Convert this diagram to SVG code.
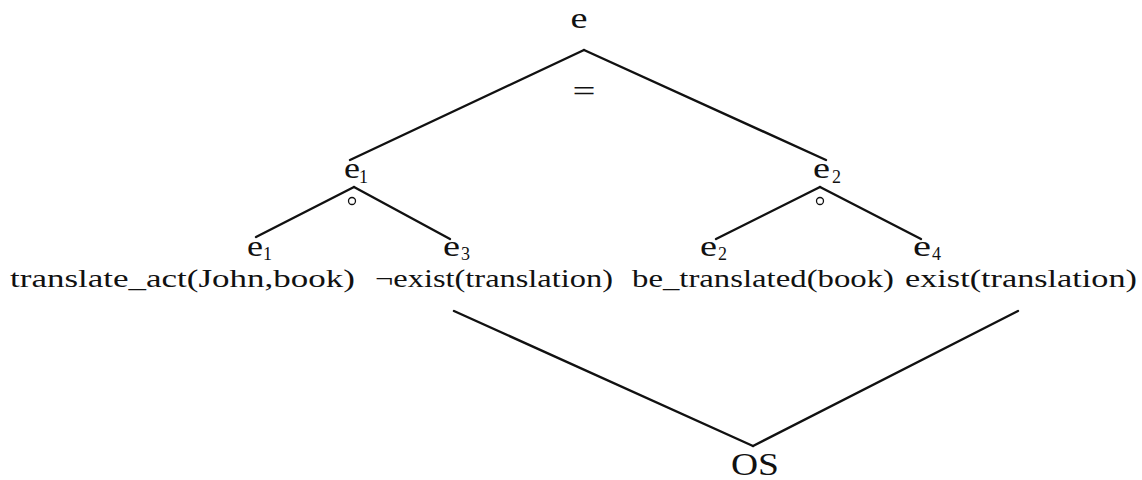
<svg xmlns="http://www.w3.org/2000/svg" width="1142" height="480" viewBox="0 0 1142 480">
<style>
text{font-family:"Liberation Serif","Times New Roman",Times,serif;fill:#111}
.ev{font-size:30px}
.sub{font-size:18px}
.lab{font-size:26px}
.os{font-size:31px}
.eq{font-size:30px}
line{stroke:#111;stroke-width:2.4;stroke-linecap:round}
.op{fill:none;stroke:#111;stroke-width:1.3}
</style>
<rect width="1142" height="480" fill="#fff"/>
<g id="connectors">
<line x1="584" y1="50" x2="350" y2="160"/>
<line x1="584" y1="50" x2="826" y2="160"/>
<line x1="354" y1="187" x2="256" y2="237"/>
<line x1="354" y1="187" x2="450" y2="239"/>
<line x1="820" y1="187" x2="716" y2="239"/>
<line x1="820" y1="187" x2="921" y2="239"/>
<line x1="454" y1="311" x2="753" y2="446"/>
<line x1="1018" y1="311" x2="753" y2="446"/>
</g>
<g id="node-e" font-family="Liberation Serif, serif">
<text class="ev" x="579" y="28" text-anchor="middle" textLength="17" lengthAdjust="spacingAndGlyphs">e</text>
<text class="eq" x="584" y="101" text-anchor="middle" textLength="23" lengthAdjust="spacingAndGlyphs">=</text>
</g>
<g id="node-e1-top" font-family="Liberation Serif, serif">
<text class="ev" x="344" y="178" textLength="16" lengthAdjust="spacingAndGlyphs">e</text>
<text class="sub" x="359" y="183">1</text>
<circle class="op" cx="352" cy="201" r="3.5"/>
</g>
<g id="node-e2-top" font-family="Liberation Serif, serif">
<text class="ev" x="813" y="178" textLength="17" lengthAdjust="spacingAndGlyphs">e</text>
<text class="sub" x="832" y="183">2</text>
<circle class="op" cx="820" cy="201" r="3.5"/>
</g>
<g id="node-e1" font-family="Liberation Serif, serif">
<text class="ev" x="247" y="256" textLength="16" lengthAdjust="spacingAndGlyphs">e</text>
<text class="sub" x="263" y="260">1</text>
<text class="lab" x="10" y="287" textLength="345" lengthAdjust="spacingAndGlyphs">translate_act(John,book)</text>
</g>
<g id="node-e3" font-family="Liberation Serif, serif">
<text class="ev" x="443" y="256" textLength="17" lengthAdjust="spacingAndGlyphs">e</text>
<text class="sub" x="461" y="260">3</text>
<text class="lab" x="375" y="287" textLength="238" lengthAdjust="spacingAndGlyphs">¬exist(translation)</text>
</g>
<g id="node-e2" font-family="Liberation Serif, serif">
<text class="ev" x="700" y="256" textLength="17" lengthAdjust="spacingAndGlyphs">e</text>
<text class="sub" x="718" y="260">2</text>
<text class="lab" x="632" y="287" textLength="262" lengthAdjust="spacingAndGlyphs">be_translated(book)</text>
</g>
<g id="node-e4" font-family="Liberation Serif, serif">
<text class="ev" x="913" y="256" textLength="18" lengthAdjust="spacingAndGlyphs">e</text>
<text class="sub" x="932" y="260">4</text>
<text class="lab" x="905" y="287" textLength="232" lengthAdjust="spacingAndGlyphs">exist(translation)</text>
</g>
<g id="node-os" font-family="Liberation Serif, serif">
<text class="os" x="755" y="475" text-anchor="middle" textLength="48" lengthAdjust="spacingAndGlyphs">OS</text>
</g>
</svg>
